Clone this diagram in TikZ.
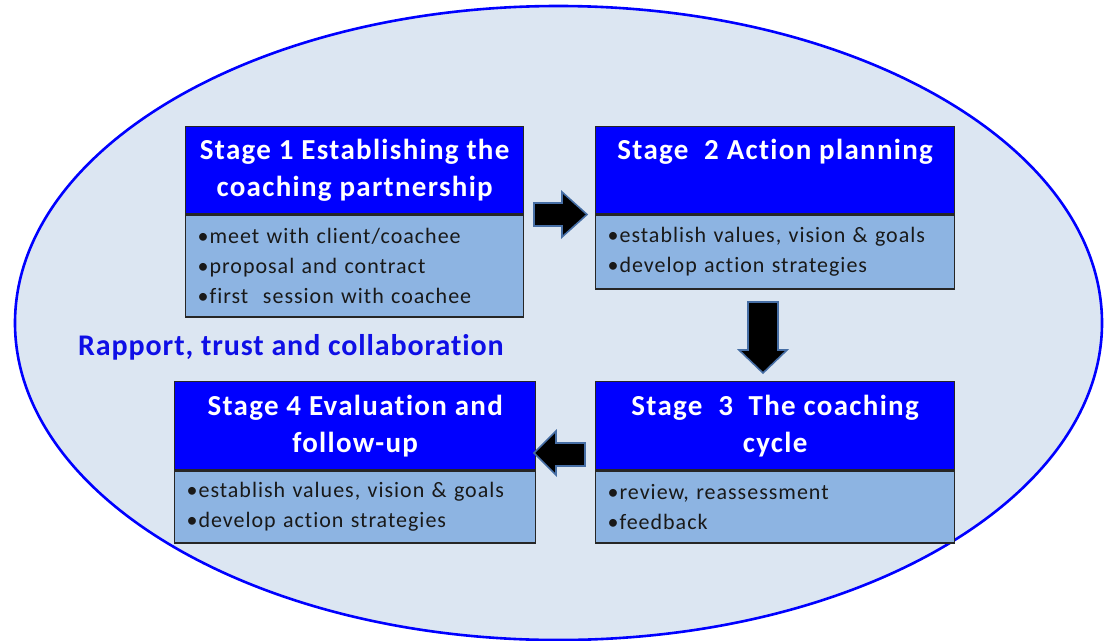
\documentclass[tikz,border=0pt]{standalone}
\usepackage{fontspec}
\setmainfont{Carlito}[Ligatures=NoCommon]
\newfontfamily\headfont{Carlito}[LetterSpace=4.5, Ligatures=NoCommon]
\newfontfamily\bodyfont{Carlito}[LetterSpace=4.5, Ligatures=NoCommon]
\newfontfamily\rapfont{Carlito}[LetterSpace=3, Ligatures=NoCommon]
\definecolor{ellfill}{RGB}{220,230,242}
\definecolor{ellline}{RGB}{0,0,255}
\definecolor{headfill}{RGB}{0,0,255}
\definecolor{bodyfill}{RGB}{141,180,226}
\definecolor{rapport}{RGB}{15,15,230}
\definecolor{arrowedge}{RGB}{70,110,165}
\definecolor{bodytext}{RGB}{25,25,25}
\tikzset{
  headbox/.style={draw=black!85, line width=1.3pt, fill=headfill, text=white,
    font=\headfont\fontsize{29}{37}\selectfont\bfseries, align=center, inner sep=0pt, anchor=north west},
  bodybox/.style={draw=black!85, line width=1.3pt, fill=bodyfill, text=bodytext,
    font=\bodyfont\fontsize{22}{30}\selectfont, align=left, inner xsep=12pt, inner ysep=0pt, anchor=north},
  blockarrow/.style={fill=black, draw=arrowedge, line width=1.6pt, line join=miter},
}
\begin{document}
\begin{tikzpicture}[x=1pt,y=-1pt]
\useasboundingbox (0,0) rectangle (1110,640);
% background ellipse
\draw[fill=ellfill, draw=ellline, line width=2.6pt] (558.5,323) ellipse [x radius=543.5, y radius=317];

% Stage 1
\node[headbox, minimum width=338pt, minimum height=87pt] (h1) at (185,126)
  {Stage 1 Establishing the\\coaching partnership};
\node[bodybox, minimum height=102pt, text width=314pt] (b1) at (h1.south)
  {•meet with client/coachee\\•proposal and contract\\•first\ \ session with coachee};

% Stage 2
\node[headbox, minimum width=359pt, minimum height=87pt] (h2) at (595,126)
  {Stage\ \ 2 Action planning\\\vphantom{p}};
\node[bodybox, minimum height=74pt, text width=335pt] (b2) at (h2.south)
  {•establish\ values, vision\ \& goals\\•develop action\ strategies};

% Stage 3
\node[headbox, minimum width=359pt, minimum height=88pt] (h3) at (595,381)
  {Stage\ \ 3\ \ The coaching\\cycle};
\node[bodybox, minimum height=72pt, text width=335pt] (b3) at (h3.south)
  {•review, reassessment\\•feedback};

% Stage 4
\node[headbox, minimum width=361pt, minimum height=88pt] (h4) at (174,381)
  {Stage 4 Evaluation and\\follow-up};
\node[bodybox, minimum height=72pt, text width=337pt] (b4) at (h4.south)
  {•establish\ values, vision\ \& goals\\•develop action\ strategies};

% Rapport label
\node[text=rapport, font=\rapfont\fontsize{30}{36}\selectfont\bfseries, anchor=base west, inner sep=0pt] (rap) at (78,355)
  {Rapport, trust and collaboration};

% block arrows
\draw[blockarrow] (534,203) -- (562,203) -- (562,192) -- (587,214.5) -- (562,237) -- (562,226) -- (534,226) -- cycle;
\draw[blockarrow] (748,302) -- (778,302) -- (778,350) -- (787,350) -- (763,373) -- (739,350) -- (748,350) -- cycle;
\draw[blockarrow] (585,443) -- (556,443) -- (556,431) -- (534,453) -- (556,475) -- (556,466) -- (585,466) -- cycle;
\end{tikzpicture}
\end{document}
